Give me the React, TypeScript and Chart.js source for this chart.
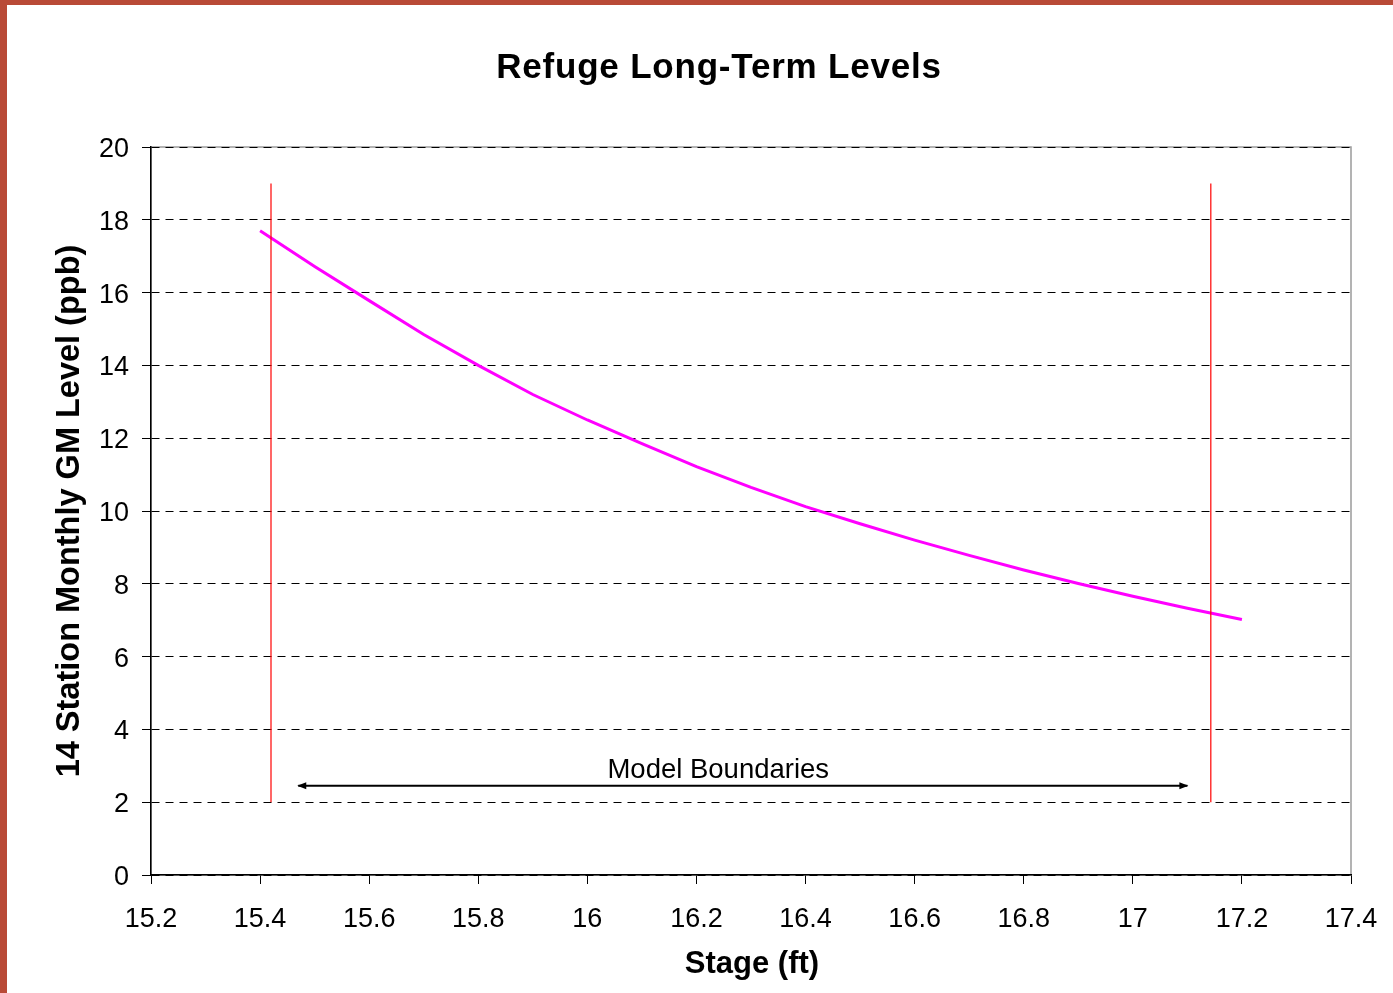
import React, { useEffect, useRef } from "react";
import { Chart, registerables } from "chart.js";

Chart.register(...registerables);

// ---- data ----
const stage = [15.4, 15.5, 15.6, 15.7, 15.8, 15.9, 16.0, 16.1, 16.2, 16.3, 16.4, 16.5, 16.6, 16.7, 16.8, 16.9, 17.0, 17.1, 17.2];
const gmLevel = [17.7, 16.72, 15.78, 14.85, 14.0, 13.2, 12.5, 11.85, 11.22, 10.65, 10.12, 9.65, 9.2, 8.78, 8.38, 8.01, 7.66, 7.33, 7.02];
const boundaryStages = [15.42, 17.143];
const boundaryLevels = [2, 19];
const arrowStages = [15.47, 17.1];
const arrowLevel = 2.45;
const boundaryLabel = "Model Boundaries";
const boundaryLabelStage = 16.24;
const boundaryLabelLevel = 2.88;
const xTicks = [15.2, 15.4, 15.6, 15.8, 16, 16.2, 16.4, 16.6, 16.8, 17, 17.2, 17.4];
const yTicks = [0, 2, 4, 6, 8, 10, 12, 14, 16, 18, 20];
const chartTitle = "Refuge Long-Term Levels";
const xTitle = "Stage (ft)";
const yTitle = "14 Station Monthly GM Level (ppb)";

const FONT = "'Liberation Sans', Arial, Helvetica, sans-serif";
const W = 1386;
const H = 988;

export default function App() {
  const ref = useRef<HTMLCanvasElement | null>(null);

  useEffect(() => {
    const canvas = ref.current;
    if (!canvas) return;

    const frame = {
      id: "frame",
      beforeDraw(chart: any) {
        const { ctx, chartArea } = chart;
        ctx.save();
        ctx.fillStyle = "#fff";
        ctx.fillRect(0, 0, chart.width, chart.height);
        ctx.strokeStyle = "#9a9a9a";
        ctx.lineWidth = 1.5;
        ctx.strokeRect(chartArea.left, chartArea.top, chartArea.right - chartArea.left, chartArea.bottom - chartArea.top);
        ctx.restore();
      },
      afterDraw(chart: any) {
        const { ctx } = chart;
        const xs = chart.scales.x;
        const ys = chart.scales.y;
        ctx.save();
        ctx.fillStyle = "#000";
        ctx.textAlign = "center";
        ctx.textBaseline = "middle";
        // title
        ctx.font = `bold 35px ${FONT}`;
        (ctx as any).letterSpacing = "0.8px";
        ctx.fillText(chartTitle, 712, 63);
        (ctx as any).letterSpacing = "0px";
        // x title
        ctx.font = `bold 31px ${FONT}`;
        ctx.fillText(xTitle, 745, 959);
        // y title
        ctx.save();
        ctx.translate(63, 506);
        ctx.rotate(-Math.PI / 2);
        ctx.font = `bold 32.5px ${FONT}`;
        ctx.fillText(yTitle, 0, 0);
        ctx.restore();
        // model boundaries label
        ctx.font = `27.5px ${FONT}`;
        ctx.fillText(boundaryLabel, xs.getPixelForValue(boundaryLabelStage), ys.getPixelForValue(boundaryLabelLevel));
        // arrow heads
        const yA = ys.getPixelForValue(arrowLevel);
        const xL = xs.getPixelForValue(arrowStages[0]);
        const xR = xs.getPixelForValue(arrowStages[1]);
        ctx.beginPath();
        ctx.moveTo(xL - 1, yA);
        ctx.lineTo(xL + 8, yA - 3.5);
        ctx.lineTo(xL + 8, yA + 3.5);
        ctx.closePath();
        ctx.fill();
        ctx.beginPath();
        ctx.moveTo(xR + 1, yA);
        ctx.lineTo(xR - 8, yA - 3.5);
        ctx.lineTo(xR - 8, yA + 3.5);
        ctx.closePath();
        ctx.fill();
        ctx.restore();
      },
    };

    const chart = new Chart(canvas, {
      type: "scatter",
      data: {
        datasets: [
          ...boundaryStages.map((b) => ({
            data: boundaryLevels.map((v) => ({ x: b, y: v })),
            showLine: true,
            borderColor: "#ff0000",
            borderWidth: 1.2,
            pointRadius: 0,
          })),
          {
            data: arrowStages.map((s) => ({ x: s, y: arrowLevel })),
            showLine: true,
            borderColor: "#000",
            borderWidth: 2,
            pointRadius: 0,
          },
          {
            data: stage.map((s, i) => ({ x: s, y: gmLevel[i] })),
            showLine: true,
            borderColor: "#ff00ff",
            borderWidth: 3,
            pointRadius: 0,
            tension: 0,
          },
        ],
      },
      options: {
        responsive: false,
        animation: false,
        devicePixelRatio: 1,
        layout: { padding: { top: 142, right: 42, left: 0, bottom: 0 } },
        plugins: { legend: { display: false }, title: { display: false }, tooltip: { enabled: false } },
        scales: {
          x: {
            type: "linear",
            min: xTicks[0],
            max: xTicks[xTicks.length - 1],
            afterBuildTicks: (scale: any) => {
              scale.ticks = xTicks.map((v) => ({ value: v }));
            },
            afterFit: (scale: any) => {
              scale.height = H - 870;
              scale.paddingLeft = 0;
              scale.paddingRight = 0;
            },
            grid: { drawOnChartArea: false, drawTicks: true, tickLength: 9, tickColor: "#000", tickWidth: 1 },
            border: { color: "#000", width: 1.5 },
            ticks: {
              color: "#000",
              font: { family: FONT, size: 27 },
              padding: 19,
              maxRotation: 0,
              autoSkip: false,
              callback: (v: any) => String(Number(Number(v).toFixed(1))),
            },
          },
          y: {
            type: "linear",
            min: yTicks[0],
            max: yTicks[yTicks.length - 1],
            afterBuildTicks: (scale: any) => {
              scale.ticks = yTicks.map((v) => ({ value: v }));
            },
            afterFit: (scale: any) => {
              scale.width = 144;
              scale.paddingTop = 0;
              scale.paddingBottom = 0;
            },
            grid: { color: "#000", lineWidth: 1, drawTicks: true, tickLength: 9, tickColor: "#000", tickWidth: 1 },
            border: { color: "#000", width: 1.5, dash: [8, 6] },
            ticks: {
              color: "#000",
              font: { family: FONT, size: 27 },
              padding: 13,
              labelOffset: 2.5,
              autoSkip: false,
              callback: (v: any) => String(v),
            },
          },
        },
      },
      plugins: [frame],
    });

    return () => chart.destroy();
  }, []);

  return (
    <div
      style={{
        position: "fixed",
        left: 0,
        top: 0,
        width: 1393,
        height: 993,
        boxSizing: "border-box",
        borderLeft: "7px solid #b94a37",
        borderTop: "5px solid #b94a37",
        background: "#fff",
      }}
    >
      <canvas ref={ref} width={W} height={H} style={{ display: "block", width: W, height: H }} />
    </div>
  );
}
